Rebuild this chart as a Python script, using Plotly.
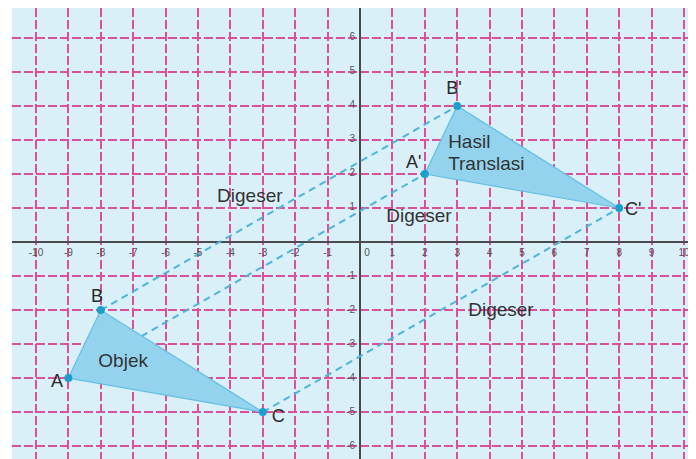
import plotly.graph_objects as go

# Data
obj_x = [-9, -8, -3]
obj_y = [-4, -2, -5]
obj_names = ["A", "B", "C"]
shift_x = 11
shift_y = 6
img_x = [x + shift_x for x in obj_x]
img_y = [y + shift_y for y in obj_y]
img_names = ["A'", "B'", "C'"]

xticks = list(range(-10, 11))
yticks = [v for v in range(-6, 7) if v != 0]

vertex_label_x = [-9.35, -8.12, -2.52]
vertex_label_y = [-4.12, -1.62, -5.15]
img_label_x = [1.66, 2.9, 8.43]
img_label_y = [2.32, 4.47, 0.94]

shift_text = ["Digeser", "Digeser", "Digeser"]
shift_text_x = [-3.4, 1.82, 4.35]
shift_text_y = [1.32, 0.74, -2.03]

FONT = "Liberation Sans, Arial"

fig = go.Figure()

# translation guide lines
for i in range(3):
    fig.add_trace(go.Scatter(
        x=[obj_x[i], img_x[i]], y=[obj_y[i], img_y[i]], mode="lines",
        line=dict(color="#4db4da", width=2, dash="7px,5px"),
        hoverinfo="skip", showlegend=False))

# triangles
for xs, ys in [(obj_x, obj_y), (img_x, img_y)]:
    fig.add_trace(go.Scatter(
        x=xs + [xs[0]], y=ys + [ys[0]], mode="lines", fill="toself",
        fillcolor="#93d3ee", line=dict(color="#62bfe3", width=1.2),
        hoverinfo="skip", showlegend=False))
    fig.add_trace(go.Scatter(
        x=xs, y=ys, mode="markers",
        marker=dict(color="#1aa0cc", size=8),
        hoverinfo="skip", showlegend=False))

# vertex labels
fig.add_trace(go.Scatter(
    x=vertex_label_x + img_label_x, y=vertex_label_y + img_label_y,
    mode="text", text=obj_names + img_names,
    textfont=dict(family=FONT, size=18, color="#2a2a2a"),
    hoverinfo="skip", showlegend=False))

# descriptive texts
fig.add_trace(go.Scatter(
    x=shift_text_x, y=shift_text_y, mode="text", text=shift_text,
    textfont=dict(family=FONT, size=19, color="#333333"),
    hoverinfo="skip", showlegend=False))
fig.add_trace(go.Scatter(
    x=[-7.31], y=[-3.53], mode="text", text=["Objek"],
    textfont=dict(family=FONT, size=19, color="#333333"),
    hoverinfo="skip", showlegend=False))
fig.add_trace(go.Scatter(
    x=[2.72, 2.72], y=[2.91, 2.26], mode="text", text=["Hasil", "Translasi"],
    textposition="middle right",
    textfont=dict(family=FONT, size=19, color="#333333"),
    hoverinfo="skip", showlegend=False))

# tick labels along axes
fig.add_trace(go.Scatter(
    x=[v + (0.22 if v == 0 else 0) for v in xticks], y=[-0.35] * len(xticks),
    mode="text", text=[str(v) for v in xticks],
    textfont=dict(family=FONT, size=10, color="#555555"),
    hoverinfo="skip", showlegend=False))
fig.add_trace(go.Scatter(
    x=[-0.15] * len(yticks), y=yticks, mode="text",
    text=[str(v) for v in yticks], textposition="middle left",
    textfont=dict(family=FONT, size=10, color="#555555"),
    hoverinfo="skip", showlegend=False))

axis_common = dict(
    dtick=1, tick0=0, showgrid=True, gridcolor="#dd4f98", gridwidth=2,
    griddash="9px,3px", zeroline=True, zerolinecolor="#4a4a4a",
    zerolinewidth=1.5, showticklabels=False, ticks="", showline=False,
    fixedrange=True)

# the page body adds an 8px margin, so the figure is 8px smaller
fig.update_layout(
    width=688, height=451,
    margin=dict(l=4, r=0, t=0, b=0),
    paper_bgcolor="white", plot_bgcolor="#d9f0f9",
    xaxis=dict(range=[-10.74, 10.37], **axis_common),
    yaxis=dict(range=[-6.38, 6.88], **axis_common),
    showlegend=False,
)

fig.write_html("out.html")
